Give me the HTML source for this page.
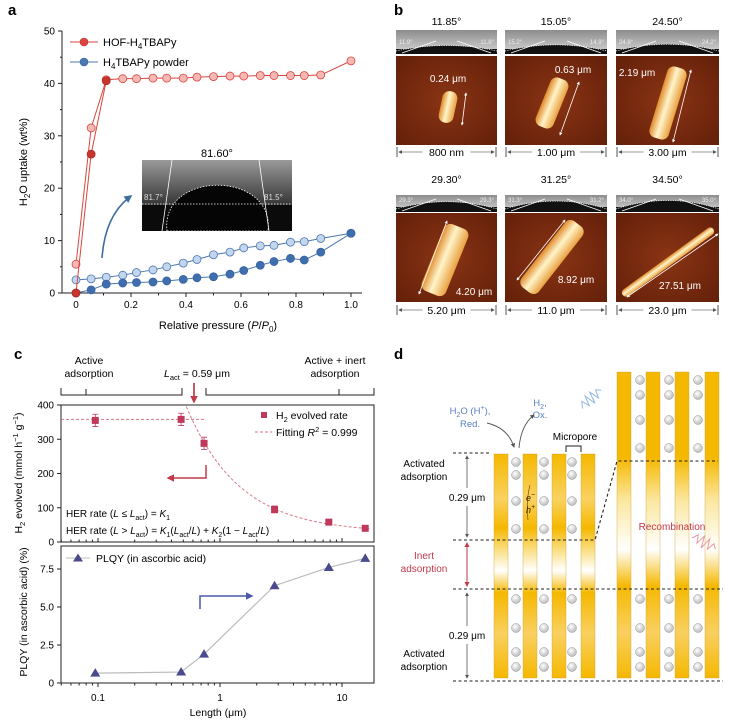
<!DOCTYPE html>
<html><head><meta charset="utf-8"><style>
html,body{margin:0;padding:0;background:#fff;}
svg{display:block;font-family:"Liberation Sans",sans-serif;}
text{font-family:"Liberation Sans",sans-serif;}
</style></head><body>
<svg id="fig" width="733" height="725" viewBox="0 0 733 725" xmlns="http://www.w3.org/2000/svg">
<defs>
<radialGradient id="afm" cx="0.5" cy="0.5" r="0.8"><stop offset="0" stop-color="#8a3414"/><stop offset="1" stop-color="#5e1d08"/></radialGradient>
<linearGradient id="rod" x1="0" y1="0" x2="1" y2="0"><stop offset="0" stop-color="#e08a2a"/><stop offset="0.45" stop-color="#fff4c8"/><stop offset="1" stop-color="#e9a040"/></linearGradient>
<linearGradient id="strip" x1="0" y1="0" x2="0" y2="1"><stop offset="0" stop-color="#8c8c8c"/><stop offset="1" stop-color="#d8d8d8"/></linearGradient>
<linearGradient id="inset" x1="0" y1="0" x2="0" y2="1"><stop offset="0" stop-color="#9a9a9a"/><stop offset="0.6" stop-color="#3a3a3a"/><stop offset="1" stop-color="#111"/></linearGradient>
<linearGradient id="barL" x1="0" y1="0" x2="0" y2="1"><stop offset="0" stop-color="#f5b800"/><stop offset="0.2" stop-color="#f9d260"/><stop offset="0.33" stop-color="#f5b800"/><stop offset="0.45" stop-color="#fbe7a0"/><stop offset="0.52" stop-color="#ffffff"/><stop offset="0.62" stop-color="#f5b800"/><stop offset="0.8" stop-color="#f9d060"/><stop offset="1" stop-color="#f5b800"/></linearGradient>
<linearGradient id="barR" x1="0" y1="0" x2="0" y2="1"><stop offset="0" stop-color="#f5b800"/><stop offset="0.28" stop-color="#f5b800"/><stop offset="0.42" stop-color="#fbe7a0"/><stop offset="0.58" stop-color="#ffffff"/><stop offset="0.7" stop-color="#f5b800"/><stop offset="0.85" stop-color="#f9d060"/><stop offset="1" stop-color="#f5b800"/></linearGradient>
<radialGradient id="ball" cx="0.4" cy="0.35" r="0.7"><stop offset="0" stop-color="#ffffff"/><stop offset="1" stop-color="#b5b5b5"/></radialGradient>
<marker id="ah" viewBox="0 0 10 10" refX="8" refY="5" markerWidth="5" markerHeight="5" orient="auto-start-reverse"><path d="M0,0L10,5L0,10z" fill="#555"/></marker>
<marker id="ahw" viewBox="0 0 10 10" refX="8" refY="5" markerWidth="4" markerHeight="4" orient="auto-start-reverse"><path d="M0,0L10,5L0,10z" fill="#fff"/></marker>
<marker id="ahr" viewBox="0 0 10 10" refX="8" refY="5" markerWidth="5" markerHeight="5" orient="auto-start-reverse"><path d="M0,0L10,5L0,10z" fill="#c23a4a"/></marker>
<marker id="ahb" viewBox="0 0 10 10" refX="8" refY="5" markerWidth="5" markerHeight="5" orient="auto-start-reverse"><path d="M0,0L10,5L0,10z" fill="#4a5aa8"/></marker>
<marker id="ahs" viewBox="0 0 10 10" refX="8" refY="5" markerWidth="5" markerHeight="5" orient="auto-start-reverse"><path d="M0,0L10,5L0,10z" fill="#3f6e9c"/></marker>
</defs>

<text x="8" y="15" font-size="15" font-weight="bold">a</text>
<text x="394" y="15" font-size="15" font-weight="bold">b</text>
<text x="14" y="359" font-size="15" font-weight="bold">c</text>
<text x="394" y="359" font-size="15" font-weight="bold">d</text>

<g id="panelA">
<text x="218" y="329" font-size="11" text-anchor="middle">Relative pressure (<tspan font-style="italic">P</tspan>/<tspan font-style="italic">P</tspan><tspan font-size="8" dy="3">0</tspan><tspan dy="-3">)</tspan></text>
<text transform="translate(27,162) rotate(-90)" font-size="11" text-anchor="middle">H<tspan font-size="8" dy="3">2</tspan><tspan dy="-3">O uptake (wt%)</tspan></text>
<g>
<text x="217" y="157" font-size="11" text-anchor="middle">81.60°</text>
<rect x="142" y="160" width="150" height="71" fill="url(#inset)"/>
<rect x="142" y="205" width="150" height="26" fill="#0b0b0b"/>
<path d="M167,231 C160,170 275,170 268,231 Z" fill="#050505" stroke="#fff" stroke-width="0.8" stroke-dasharray="1.5,1.5"/>
<line x1="142" y1="204" x2="292" y2="204" stroke="#fff" stroke-width="0.8" stroke-dasharray="1.5,1.5"/>
<line x1="172" y1="160" x2="162" y2="231" stroke="#fff" stroke-width="0.8"/>
<line x1="259" y1="160" x2="269" y2="231" stroke="#fff" stroke-width="0.8"/>
<text x="144" y="200" font-size="8" fill="#ddd">81.7°</text>
<text x="264" y="200" font-size="8" fill="#ddd">81.5°</text>
</g>
<path d="M102,258 Q105,215 131,196" fill="none" stroke="#3f6e9c" stroke-width="1.6" marker-end="url(#ahs)"/>
<g>
<line x1="70" y1="42" x2="98" y2="42" stroke="#d9463e" stroke-width="1"/><circle cx="84" cy="42" r="4" fill="#d9463e" stroke="#b33" stroke-width="0.6"/>
<text x="103" y="46" font-size="11">HOF-H<tspan font-size="8" dy="3">4</tspan><tspan dy="-3">TBAPy</tspan></text>
<line x1="70" y1="62" x2="98" y2="62" stroke="#4a78b0" stroke-width="1"/><circle cx="84" cy="62" r="4" fill="#4a78b0" stroke="#35609a" stroke-width="0.6"/>
<text x="103" y="66" font-size="11">H<tspan font-size="8" dy="3">4</tspan><tspan dy="-3">TBAPy powder</tspan></text>
</g>
</g>

<g id="panelB"></g>

<g id="panelC">
<g stroke="#222" stroke-width="1" fill="none">
<path d="M61,388 L61,395 L182,395 L182,388 M86,395 L86,389"/>
<path d="M206,388 L206,395 L374,395 L374,388 M339,395 L339,389"/>
</g>
<text x="89" y="364" font-size="10.5" text-anchor="middle">Active</text>
<text x="89" y="377" font-size="10.5" text-anchor="middle">adsorption</text>
<text x="335" y="364" font-size="10.5" text-anchor="middle">Active + inert</text>
<text x="335" y="377" font-size="10.5" text-anchor="middle">adsorption</text>
<text x="197" y="377" font-size="10.5" text-anchor="middle"><tspan font-style="italic">L</tspan><tspan font-size="7.5" dy="3">act</tspan><tspan dy="-3"> = 0.59 μm</tspan></text>
<line x1="194" y1="383" x2="194" y2="402" stroke="#b02030" stroke-width="1.5" marker-end="url(#ahr)"/>
<path d="M206,465 L206,478 L168,478" fill="none" stroke="#c23a4a" stroke-width="1.5" marker-end="url(#ahr)"/>
<path d="M200,609 L200,596 L252,596" fill="none" stroke="#4a5aa8" stroke-width="1.5" marker-end="url(#ahb)"/>
<text x="66" y="517" font-size="10">HER rate (<tspan font-style="italic">L</tspan> ≤ <tspan font-style="italic">L</tspan><tspan font-size="7" dy="3">act</tspan><tspan dy="-3">) = </tspan><tspan font-style="italic">K</tspan><tspan font-size="7" dy="3">1</tspan></text>
<text x="66" y="534" font-size="10">HER rate (<tspan font-style="italic">L</tspan> &gt; <tspan font-style="italic">L</tspan><tspan font-size="7" dy="3">act</tspan><tspan dy="-3">) = </tspan><tspan font-style="italic">K</tspan><tspan font-size="7" dy="3">1</tspan><tspan dy="-3">(</tspan><tspan font-style="italic">L</tspan><tspan font-size="7" dy="3">act</tspan><tspan dy="-3">/</tspan><tspan font-style="italic">L</tspan>) + <tspan font-style="italic">K</tspan><tspan font-size="7" dy="3">2</tspan><tspan dy="-3">(1 − </tspan><tspan font-style="italic">L</tspan><tspan font-size="7" dy="3">act</tspan><tspan dy="-3">/</tspan><tspan font-style="italic">L</tspan>)</text>
<g>
<rect x="261" y="412" width="6" height="6" fill="#c0395a"/>
<text x="276" y="419" font-size="10.5">H<tspan font-size="7.5" dy="3">2</tspan><tspan dy="-3"> evolved rate</tspan></text>
<line x1="255" y1="432" x2="272" y2="432" stroke="#d77a8a" stroke-width="1" stroke-dasharray="3,2"/>
<text x="276" y="436" font-size="10.5">Fitting <tspan font-style="italic">R</tspan><tspan font-size="7.5" dy="-4">2</tspan><tspan dy="4"> = 0.999</tspan></text>
</g>
<g>
<line x1="66" y1="558" x2="90" y2="558" stroke="#bbb" stroke-width="1"/>
<path d="M78,553.5 L83,561.5 L73,561.5 Z" fill="#4a4a8c"/>
<text x="96" y="562" font-size="10.5">PLQY (in ascorbic acid)</text>
</g>
<text transform="translate(22,473) rotate(-90)" font-size="10.5" text-anchor="middle">H<tspan font-size="7.5" dy="3">2</tspan><tspan dy="-3"> evolved (mmol h</tspan><tspan font-size="7.5" dy="-4">−1</tspan><tspan dy="4"> g</tspan><tspan font-size="7.5" dy="-4">−1</tspan><tspan dy="4">)</tspan></text>
<text transform="translate(27,612) rotate(-90)" font-size="10.5" text-anchor="middle">PLQY (in ascorbic acid) (%)</text>
<text x="218" y="716" font-size="10.5" text-anchor="middle">Length (μm)</text>
</g>

<g id="panelD"></g>
<g>
<g stroke="#222" stroke-width="1.1" stroke-dasharray="3,2.5" fill="none">
<line x1="453" y1="453" x2="490" y2="453"/>
<path d="M453,540 L595,540 L617,461 L718,461"/>
<line x1="453" y1="589" x2="723" y2="589"/>
<line x1="453" y1="681" x2="723" y2="681"/>
</g>
<g stroke="#555" stroke-width="0.8" fill="none">
<line x1="467" y1="456" x2="467" y2="488" marker-start="url(#ah)"/>
<line x1="467" y1="506" x2="467" y2="537" marker-end="url(#ah)"/>
<line x1="467" y1="593" x2="467" y2="626" marker-start="url(#ah)"/>
<line x1="467" y1="644" x2="467" y2="678" marker-end="url(#ah)"/>
</g>
<line x1="467" y1="543" x2="467" y2="586" stroke="#c23a4a" stroke-width="1" marker-start="url(#ahr)" marker-end="url(#ahr)"/>
<text x="424" y="467" font-size="10" text-anchor="middle">Activated</text>
<text x="424" y="480" font-size="10" text-anchor="middle">adsorption</text>
<text x="467" y="501" font-size="10" text-anchor="middle">0.29 μm</text>
<text x="424" y="559" font-size="10" text-anchor="middle" fill="#c23a4a">Inert</text>
<text x="424" y="572" font-size="10" text-anchor="middle" fill="#c23a4a">adsorption</text>
<text x="467" y="639" font-size="10" text-anchor="middle">0.29 μm</text>
<text x="424" y="657" font-size="10" text-anchor="middle">Activated</text>
<text x="424" y="670" font-size="10" text-anchor="middle">adsorption</text>
<text x="470" y="414" font-size="9.5" text-anchor="middle" fill="#5b7fc0">H<tspan font-size="7" dy="3">2</tspan><tspan dy="-3">O (H</tspan><tspan font-size="7" dy="-4">+</tspan><tspan dy="4">),</tspan></text>
<text x="470" y="427" font-size="9.5" text-anchor="middle" fill="#5b7fc0">Red.</text>
<text x="540" y="406" font-size="9.5" text-anchor="middle" fill="#5b7fc0">H<tspan font-size="7" dy="3">2</tspan><tspan dy="-3">,</tspan></text>
<text x="540" y="418" font-size="9.5" text-anchor="middle" fill="#5b7fc0">Ox.</text>
<path d="M487,423 Q508,428 514,447" fill="none" stroke="#555" stroke-width="0.9" marker-end="url(#ah)"/>
<path d="M519,448 Q521,425 534,415" fill="none" stroke="#555" stroke-width="0.9" marker-end="url(#ah)"/>
<text x="575" y="440" font-size="10" text-anchor="middle">Micropore</text>
<path d="M566,452 L566,446 L581,446 L581,452" fill="none" stroke="#222" stroke-width="1"/>
<text x="672" y="530" font-size="10" text-anchor="middle" fill="#c23a4a">Recombination</text>
<path d="M530,485 Q526,500 528,520" fill="none" stroke="#6b3a00" stroke-width="0.6"/>
<text x="526" y="501" font-size="9" font-style="italic" fill="#3a2200">e<tspan font-size="7" dy="-4">−</tspan></text>
<text x="526" y="513" font-size="9" font-style="italic" fill="#3a2200">h<tspan font-size="7" dy="-4">+</tspan></text>
<path d="M578,400 l4,-6 l3,8 l3,-10 l3,12 l3,-12 l3,10 l3,-8 l4,4" fill="none" stroke="#8fb8e0" stroke-width="1" transform="rotate(-40 592 398)"/>
<path d="M690,545 l4,-6 l3,8 l3,-10 l3,12 l3,-12 l3,10 l3,-8 l4,4" fill="none" stroke="#e89aa0" stroke-width="1" transform="rotate(30 704 545)"/>
</g>

<script>
const aX = [0,0.055,0.11,0.17,0.22,0.28,0.33,0.39,0.44,0.5,0.56,0.61,0.67,0.72,0.78,0.83,0.89,1.0];
const hofDes = [5.5,31.5,40.7,40.9,40.9,41.0,41.0,41.0,41.2,41.3,41.4,41.4,41.5,41.5,41.5,41.5,41.6,44.3];
const hofAdsX = [0,0.055,0.11];
const hofAds = [0,26.5,40.5];
const powDes = [2.5,2.7,3.0,3.4,3.9,4.4,5.0,5.7,6.4,7.3,7.8,8.6,9.0,9.1,9.7,9.8,10.4,11.4];
const powAds = [0,0.6,1.7,1.9,2.0,2.1,2.3,2.6,2.9,3.1,3.6,4.3,5.3,6.0,6.6,6.3,7.8,11.4];
const aXTicks = [0,0.2,0.4,0.6,0.8,1.0];
const aXTickLabels = ["0","0.2","0.4","0.6","0.8","1.0"];
const aYTicks = [0,10,20,30,40,50];

const cLen = [0.095,0.48,0.74,2.8,7.8,15.5];
const h2Rate = [355,358,288,95,58,40];
const h2Err = [18,18,18,10,6,5];
const plqy = [0.65,0.72,1.9,6.4,7.6,8.2];
const lAct = 0.59;
const k1 = 358;
const k2 = 27.4;
const cXTicks = [0.1,1,10];
const cXTickLabels = ["0.1","1","10"];
const cYTopTicks = [0,100,200,300,400];
const cYBotTicks = [0,2.5,5,7.5];
const cYBotLabels = ["0","2.5","5.0","7.5"];

const bTitles = ["11.85°","15.05°","24.50°","29.30°","31.25°","34.50°"];
const bLeftAngles = ["11.9°","15.2°","24.8°","29.3°","31.3°","34.0°"];
const bRightAngles = ["11.8°","14.9°","24.2°","29.3°","31.2°","35.0°"];
const bLengths = ["0.24 μm","0.63 μm","2.19 μm","4.20 μm","8.92 μm","27.51 μm"];
const bScales = ["800 nm","1.00 μm","3.00 μm","5.20 μm","11.0 μm","23.0 μm"];

const NS = "http://www.w3.org/2000/svg";
function mk(tag, attrs, parent){ const e=document.createElementNS(NS,tag); for(const k in attrs) e.setAttribute(k,attrs[k]); parent.appendChild(e); return e; }

const A = document.getElementById('panelA');
const xA = v => 76 + 275*v;
const yA = v => 293 - 5.24*v;
mk('line',{x1:62,y1:31,x2:62,y2:293,stroke:'#222','stroke-width':1},A);
mk('line',{x1:62,y1:293,x2:362,y2:293,stroke:'#222','stroke-width':1},A);
aXTicks.forEach((t,i)=>{
  mk('line',{x1:xA(t),y1:293,x2:xA(t),y2:297,stroke:'#222'},A);
  const tx = mk('text',{x:xA(t),y:308,'font-size':10,'text-anchor':'middle'},A); tx.textContent = aXTickLabels[i];
  
  
});
[0.1,0.3,0.5,0.7,0.9].forEach(t=>mk('line',{x1:xA(t),y1:293,x2:xA(t),y2:295.5,stroke:'#222'},A));
aYTicks.forEach(t=>{
  mk('line',{x1:58,y1:yA(t),x2:62,y2:yA(t),stroke:'#222'},A);
  const tx = mk('text',{x:55,y:yA(t)+3.5,'font-size':10,'text-anchor':'end'},A); tx.textContent = t;
  
  
});
[5,15,25,35,45].forEach(t=>mk('line',{x1:60,y1:yA(t),x2:62,y2:yA(t),stroke:'#222'},A));
function series(xs, ys, stroke, fill, fstroke, name){
  const pl = mk('polyline',{points:xs.map((x,i)=>xA(x)+','+yA(ys[i])).join(' '),fill:'none',stroke:stroke,'stroke-width':1},A);
  
  
  xs.forEach((x,i)=>{
    const c = mk('circle',{cx:xA(x),cy:yA(ys[i]),r:4,fill:fill,stroke:fstroke,'stroke-width':0.8},A);
    
    
  });
}
series(aX, powDes, '#4a78b0', '#c3d6ee', '#4a78b0', 'powder-desorption');
series(aX, powAds, '#4a78b0', '#3f6eae', '#3a62a0', 'powder-adsorption');
series(aX, hofDes, '#d9463e', '#f6b8b4', '#d9463e', 'hof-desorption');
series(hofAdsX, hofAds, '#d9463e', '#c8342e', '#b02a24', 'hof-adsorption');

const C = document.getElementById('panelC');
const xC = L => 220 + 122*Math.log10(L);
const yT = v => 542 - v*137/400;
const yB = v => 683 - v*114/7.5;
mk('rect',{x:61,y:405,width:313,height:137,fill:'none',stroke:'#222','stroke-width':1},C);
mk('rect',{x:61,y:546,width:313,height:137,fill:'none',stroke:'#222','stroke-width':1},C);
for(let d=-2; d<=1; d++){
  for(let m=1;m<10;m++){
    const L = m*Math.pow(10,d);
    const x = xC(L);
    if(x<61||x>374) continue;
    const len = m===1?4:2.5;
    mk('line',{x1:x,y1:683,x2:x,y2:683+len,stroke:'#222'},C);
    mk('line',{x1:x,y1:542,x2:x,y2:542-len,stroke:'#222'},C);
  }
}
cXTicks.forEach((t,i)=>{
  const tx = mk('text',{x:xC(t),y:701,'font-size':10,'text-anchor':'middle'},C); tx.textContent = cXTickLabels[i];
  
  
});
cYTopTicks.forEach(t=>{
  mk('line',{x1:57,y1:yT(t),x2:61,y2:yT(t),stroke:'#222'},C);
  const tx = mk('text',{x:54,y:yT(t)+3.5,'font-size':10,'text-anchor':'end'},C); tx.textContent = t;
  
  
});
cYBotTicks.forEach((t,i)=>{
  mk('line',{x1:57,y1:yB(t),x2:61,y2:yB(t),stroke:'#222'},C);
  const tx = mk('text',{x:54,y:yB(t)+3.5,'font-size':10,'text-anchor':'end'},C); tx.textContent = cYBotLabels[i];
  
  
});
const flat = mk('line',{x1:61,y1:yT(k1),x2:xC(0.75),y2:yT(k1),stroke:'#d77a8a','stroke-width':1,'stroke-dasharray':'3,2'},C);


let pts=[];
for(let lg=Math.log10(0.53); lg<=Math.log10(17.5); lg+=0.02){
  const L=Math.pow(10,lg);
  let v = k1*(lAct/L)+k2*(1-lAct/L);
  if(v>398) continue;
  pts.push(xC(L)+','+yT(v));
}
const fit = mk('polyline',{points:pts.join(' '),fill:'none',stroke:'#d77a8a','stroke-width':1,'stroke-dasharray':'3,2'},C);


cLen.forEach((L,i)=>{
  const x=xC(L), y=yT(h2Rate[i]);
  const eb = mk('path',{d:`M${x-3},${yT(h2Rate[i]+h2Err[i])}h6M${x},${yT(h2Rate[i]+h2Err[i])}V${yT(h2Rate[i]-h2Err[i])}M${x-3},${yT(h2Rate[i]-h2Err[i])}h6`,stroke:'#c0395a','stroke-width':0.8,fill:'none'},C);
  
  
  const r = mk('rect',{x:x-3.5,y:y-3.5,width:7,height:7,fill:'#c0395a'},C);
  
  
});
const pl = mk('polyline',{points:cLen.map((L,i)=>xC(L)+','+yB(plqy[i])).join(' '),fill:'none',stroke:'#bbb','stroke-width':1.2},C);


cLen.forEach((L,i)=>{
  const x=xC(L), y=yB(plqy[i]);
  const tri = mk('path',{d:`M${x},${y-5}L${x+5},${y+3.5}L${x-5},${y+3.5}Z`,fill:'#4a4a8c'},C);
  
  
});

const B = document.getElementById('panelB');
const cols=[396,505,616], widths=[101,102,103];
const rowsTitle=[25,183], rowsStrip=[30,195], rowsImgTop=[56,213], rowsImgH=[89,89], rowsScale=[152,310], stripH=[24,17];
const rods=[[448,107,15,32,12],[552,103,19,52,22],[668,103,20,74,17],[445,260,26,72,22],[552,257,22,84,38],[668,262,8,112,54]];
const arrowsB=[[466,93,462,125],[579,82,560,135],[691,70,673,142],[419,294,447,221],[517,280,565,220],[627,297,718,234]];
const lblPos=[[448,82],[573,73],[637,76],[474,295],[576,283],[680,289]];
for(let k=0;k<6;k++){
  const r=Math.floor(k/3), c=k%3, x0=cols[c], w=widths[c];
  const g=mk('g',{},B);
  
  
  const t=mk('text',{x:x0+w/2,y:rowsTitle[r],'font-size':10.5,'text-anchor':'middle'},g); t.textContent=bTitles[k];
  
  
  const sy=rowsStrip[r], sh=stripH[r];
  mk('rect',{x:x0,y:sy,width:w,height:sh,fill:'url(#strip)'},g);
  mk('rect',{x:x0,y:sy+sh-5,width:w,height:5,fill:'#111'},g);
  mk('path',{d:`M${x0},${sy+sh-3} Q${x0+w/2},${sy+sh-14-k*1.2} ${x0+w},${sy+sh-3} Z`,fill:'#111'},g);
  mk('path',{d:`M${x0},${sy+sh-3} Q${x0+w/2},${sy+sh-14-k*1.2} ${x0+w},${sy+sh-3}`,fill:'none',stroke:'#fff','stroke-width':0.7,'stroke-dasharray':'1.2,1.2'},g);
  mk('line',{x1:x0+6,y1:sy+sh-1,x2:x0+40,y2:sy+sh-13,stroke:'#fff','stroke-width':0.8},g);
  mk('line',{x1:x0+w-6,y1:sy+sh-1,x2:x0+w-40,y2:sy+sh-13,stroke:'#fff','stroke-width':0.8},g);
  const la=mk('text',{x:x0+3,y:sy+sh-10,'font-size':6,fill:'#eee'},g); la.textContent=bLeftAngles[k];
  const ra=mk('text',{x:x0+w-3,y:sy+sh-10,'font-size':6,fill:'#eee','text-anchor':'end'},g); ra.textContent=bRightAngles[k];
  const iy=rowsImgTop[r];
  mk('rect',{x:x0,y:iy,width:w,height:rowsImgH[r],fill:'url(#afm)'},g);
  const rd=rods[k];
  mk('rect',{x:rd[0]-rd[2]/2,y:rd[1]-rd[3]/2,width:rd[2],height:rd[3],rx:Math.min(rd[2]/2,7),fill:'url(#rod)',transform:`rotate(${rd[4]} ${rd[0]} ${rd[1]})`},g);
  const ar=arrowsB[k];
  mk('line',{x1:ar[0],y1:ar[1],x2:ar[2],y2:ar[3],stroke:'#fff','stroke-width':0.8,'marker-start':'url(#ahw)','marker-end':'url(#ahw)'},g);
  const lb=mk('text',{x:lblPos[k][0],y:lblPos[k][1],'font-size':10,'text-anchor':'middle',fill:'#fff'},g); lb.textContent=bLengths[k];
  
  
  const sc=rowsScale[r];
  mk('path',{d:`M${x0+1},${sc-5}v10M${x0+w-1},${sc-5}v10`,stroke:'#444','stroke-width':0.9},g);
  mk('line',{x1:x0+3,y1:sc,x2:x0+w-3,y2:sc,stroke:'#777','stroke-width':0.8,'marker-start':'url(#ah)','marker-end':'url(#ah)'},g);
  mk('rect',{x:x0+w/2-24,y:sc-7,width:48,height:14,fill:'#fff'},g);
  const st=mk('text',{x:x0+w/2,y:sc+4,'font-size':10.5,'text-anchor':'middle'},g); st.textContent=bScales[k];
  
  
}

const D = document.getElementById('panelD');
[[494,523,552,581],[617,646,675,705]].forEach((xs,gi)=>{
  const top = gi===0?454:372;
  xs.forEach(x=>{
    const b=mk('rect',{x:x,y:top,width:14,height:678-top,fill:gi===0?'url(#barL)':'url(#barR)',stroke:'#c9a030','stroke-width':0.4},D);
    
    
  });
});
const ballYL=[462,475,501,529,599,628,652,667], ballYR=[380,395,420,448,599,628,652,667];
[[516,544,572],[640,669,698]].forEach((xs,gi)=>{
  const ys = gi===0?ballYL:ballYR;
  xs.forEach(x=>ys.forEach(y=>{
    const c=mk('circle',{cx:x,cy:y,r:4.5,fill:'url(#ball)',stroke:'#999','stroke-width':0.5},D);
    
    
  }));
});
</script>
</svg>
</body></html>
